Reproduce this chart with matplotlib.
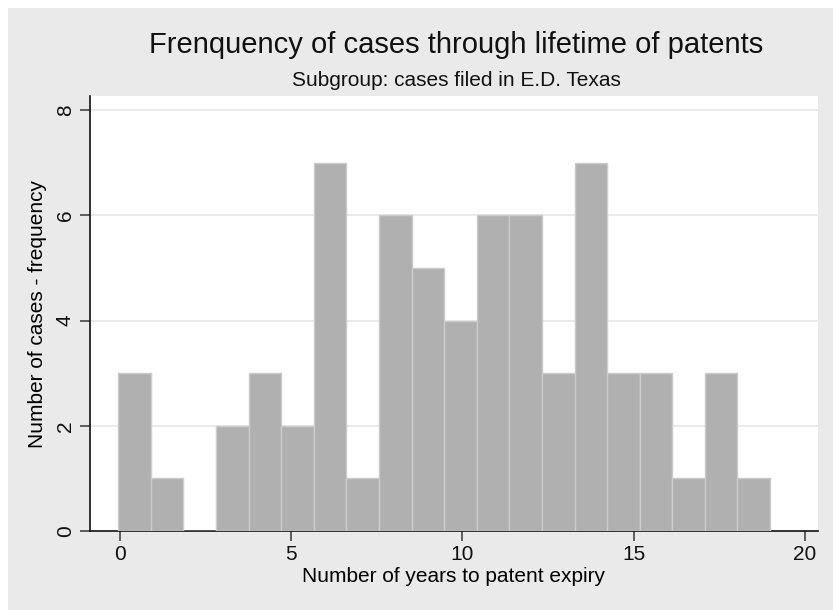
import matplotlib
matplotlib.use('Agg')
import matplotlib.pyplot as plt
from matplotlib.patches import Rectangle
import numpy as np

plt.rcParams['font.family'] = ['Liberation Sans', 'DejaVu Sans']

# histogram counts, one per bin (20 bins)
counts = [3, 1, 0, 2, 3, 2, 7, 1, 6, 5, 4, 6, 6, 3, 7, 3, 3, 1, 3, 1]
bin_start = -0.05     # left edge of first bin
bin_width = 0.9515    # stata picked this width
xticks = [0, 5, 10, 15, 20]
yticks = [0, 2, 4, 6, 8]

fig = plt.figure(figsize=(8.33, 6.10), dpi=100)
fig.patch.set_facecolor('white')
# grey stata graph region (behind the axes)
fig.patches.append(Rectangle((8/833, 0), 1 - 8/833, 1 - 8/610,
                             transform=fig.transFigure, facecolor='#eaeaea',
                             edgecolor='none', zorder=-10))

ax = fig.add_axes([90/833, 79/610, 728/833, 435/610])
ax.set_facecolor('white')

lefts = bin_start + bin_width * np.arange(len(counts))
ax.bar(lefts, counts, width=bin_width, align='edge', color='#b0b0b0',
       edgecolor='#cbcbcb', linewidth=1.0, zorder=3)

ax.set_xlim(-0.876, 20.38)
ax.set_ylim(0, 8.27)
ax.set_xticks(xticks)
ax.set_yticks(yticks)
ax.set_yticklabels([str(t) for t in yticks], rotation=90, va='center')
ax.tick_params(axis='both', labelsize=15, length=7, width=1.2,
               color='#444444', labelcolor='#111111')
ax.tick_params(axis='x', pad=3)
ax.tick_params(axis='y', pad=4)

for y in yticks[1:]:
    ax.axhline(y, color='#e6e6e6', linewidth=1.2, zorder=1)

for s in ['top', 'right']:
    ax.spines[s].set_visible(False)
for s in ['left', 'bottom']:
    ax.spines[s].set_color('#111111')
    ax.spines[s].set_linewidth(1.2)

ax.set_xlabel('Number of years to patent expiry', fontsize=15, labelpad=2)
ax.set_ylabel('Number of cases - frequency', fontsize=15, labelpad=6)

fig.text(456/833, 1 - 45/610, 'Frenquency of cases through lifetime of patents',
         ha='center', va='center', fontsize=21, color='#111111')
fig.text(456/833, 1 - 81/610, 'Subgroup: cases filed in E.D. Texas',
         ha='center', va='center', fontsize=15, color='#111111')

fig.savefig('out.png', dpi=100, facecolor=fig.get_facecolor())
